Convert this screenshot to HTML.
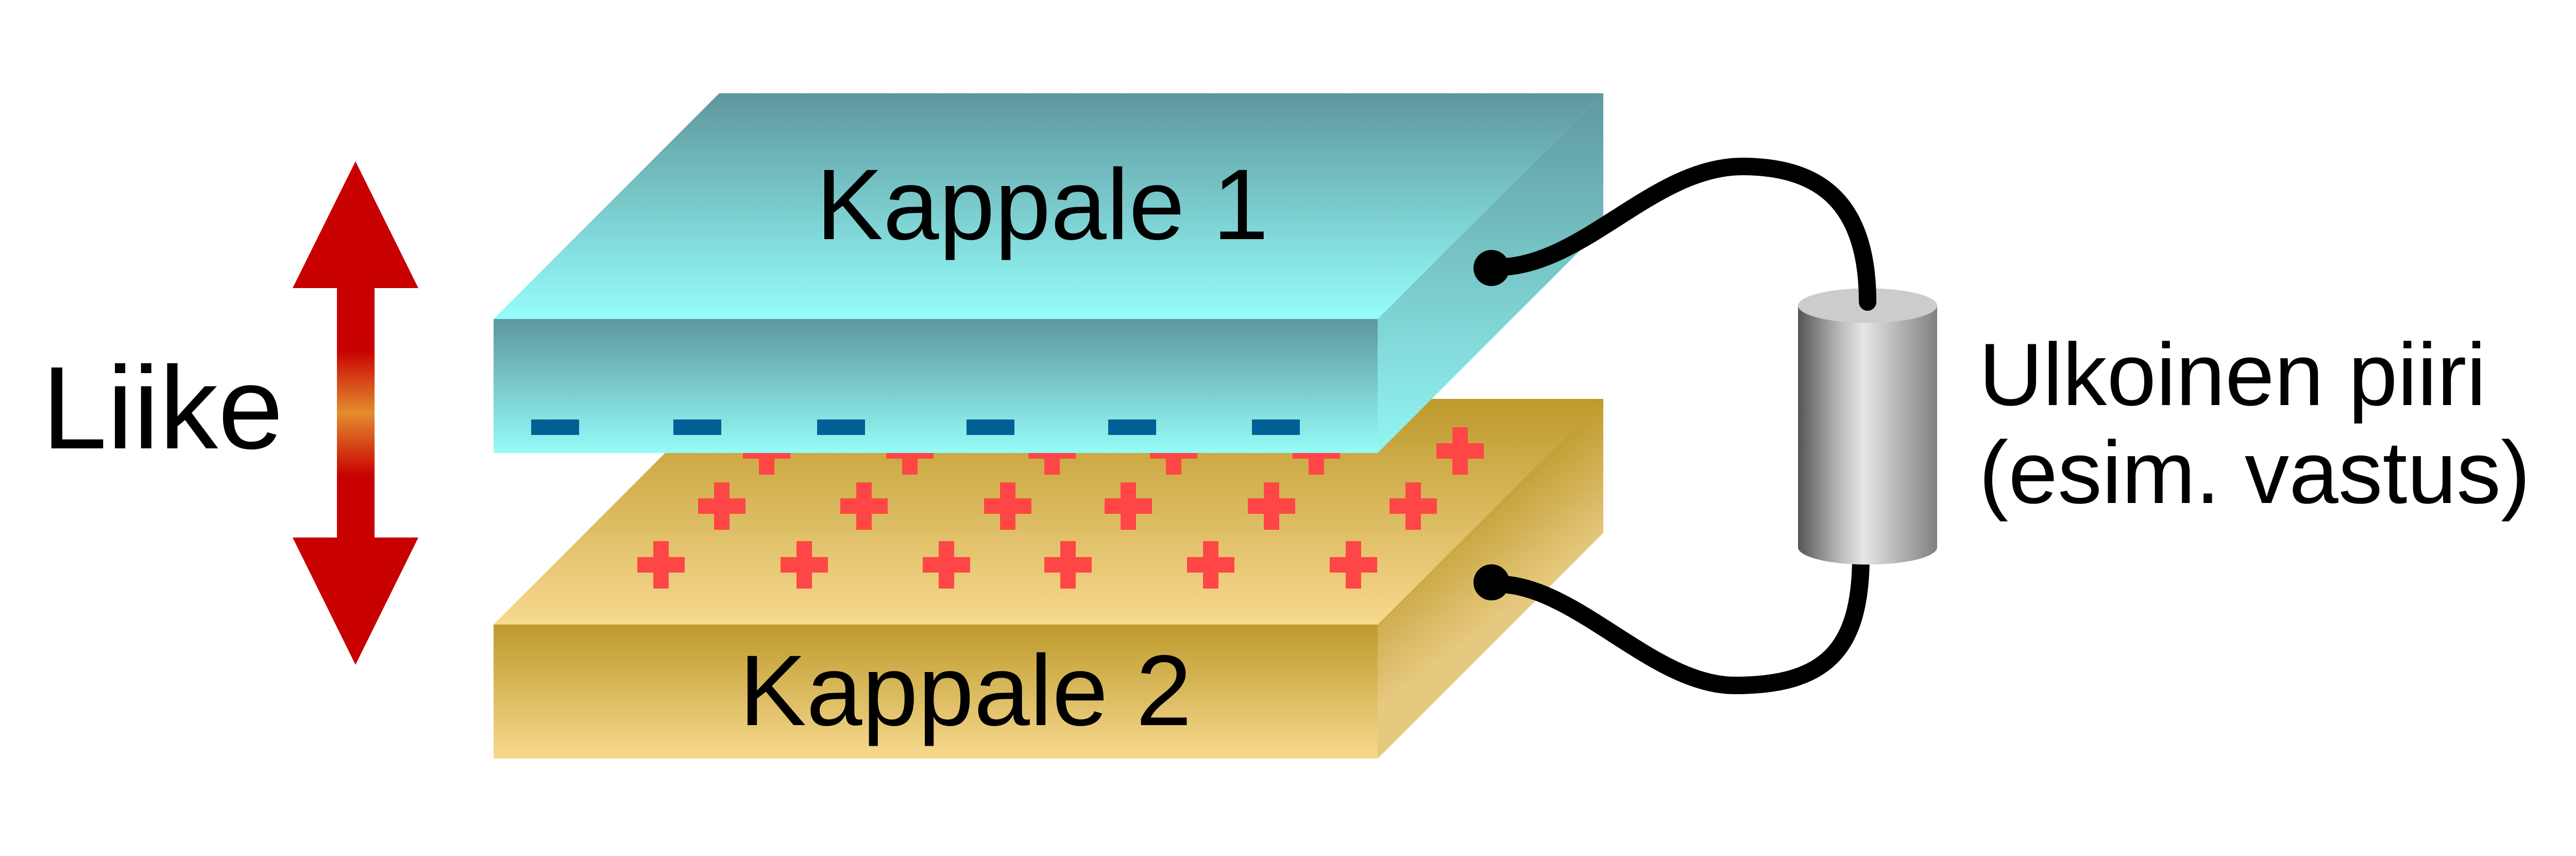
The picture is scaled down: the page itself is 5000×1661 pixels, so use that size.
<!DOCTYPE html>
<html>
<head>
<meta charset="utf-8">
<style>
html,body{margin:0;padding:0;background:#fff;}
svg{display:block;}
text{font-family:"Liberation Sans",Arial,sans-serif;fill:#000;}
</style>
</head>
<body>
<svg width="5000" height="1661" viewBox="0 0 5000 1661" xmlns="http://www.w3.org/2000/svg">
<defs>
  <linearGradient id="t1top" gradientUnits="userSpaceOnUse" x1="0" y1="181" x2="0" y2="619">
    <stop offset="0" stop-color="#5e979e"/>
    <stop offset="1" stop-color="#96fefa"/>
  </linearGradient>
  <linearGradient id="t1front" gradientUnits="userSpaceOnUse" x1="0" y1="619" x2="0" y2="879">
    <stop offset="0" stop-color="#5e979e"/>
    <stop offset="1" stop-color="#95fcf8"/>
  </linearGradient>
  <linearGradient id="t1right" gradientUnits="userSpaceOnUse" x1="0" y1="181" x2="0" y2="879">
    <stop offset="0" stop-color="#5f999f"/>
    <stop offset="1" stop-color="#92f6f3"/>
  </linearGradient>
  <linearGradient id="g2top" gradientUnits="userSpaceOnUse" x1="0" y1="774" x2="0" y2="1212">
    <stop offset="0" stop-color="#bd9a2c"/>
    <stop offset="1" stop-color="#f7d98f"/>
  </linearGradient>
  <linearGradient id="g2front" gradientUnits="userSpaceOnUse" x1="0" y1="1212" x2="0" y2="1472">
    <stop offset="0" stop-color="#bd9a2c"/>
    <stop offset="1" stop-color="#f7d98f"/>
  </linearGradient>
  <linearGradient id="g2right" gradientUnits="userSpaceOnUse" x1="3100" y1="790" x2="3227" y2="962">
    <stop offset="0" stop-color="#c09d30"/>
    <stop offset="1" stop-color="#e6c87e"/>
  </linearGradient>
  <linearGradient id="arrowg" gradientUnits="userSpaceOnUse" x1="0" y1="313" x2="0" y2="1290">
    <stop offset="0" stop-color="#c80000"/>
    <stop offset="0.374" stop-color="#c80000"/>
    <stop offset="0.5" stop-color="#e48c2e"/>
    <stop offset="0.626" stop-color="#c80000"/>
    <stop offset="1" stop-color="#c80000"/>
  </linearGradient>
  <linearGradient id="cyl" gradientUnits="userSpaceOnUse" x1="3490" y1="0" x2="3760" y2="0">
    <stop offset="0" stop-color="#555555"/>
    <stop offset="0.28" stop-color="#b3b3b3"/>
    <stop offset="0.47" stop-color="#e6e6e6"/>
    <stop offset="0.75" stop-color="#b0b0b0"/>
    <stop offset="1" stop-color="#808080"/>
  </linearGradient>
</defs>

<rect x="0" y="0" width="5000" height="1661" fill="#ffffff"/>

<!-- Double arrow -->
<polygon points="690,313 812,559 727,559 727,1043 812,1043 690,1290 568,1043 654,1043 654,559 568,559" fill="url(#arrowg)"/>

<!-- Liike -->
<text x="81" y="870" font-size="228">Liike</text>

<!-- Slab 2 (bottom, gold) -->
<polygon points="958,1212 1396,774 3112,774 2674,1212" fill="url(#g2top)"/>
<polygon points="2674,1212 3112,774 3112,1034 2674,1472" fill="url(#g2right)"/>
<rect x="958" y="1212" width="1716" height="260" fill="url(#g2front)"/>

<!-- Plus signs -->
<g fill="#ff4646">
  <!-- row 1 -->
  <rect x="1473" y="829" width="30" height="92"/><rect x="1442" y="860" width="92" height="30"/>
  <rect x="1751" y="829" width="30" height="92"/><rect x="1720" y="860" width="92" height="30"/>
  <rect x="2027" y="829" width="30" height="92"/><rect x="1996" y="860" width="92" height="30"/>
  <rect x="2263" y="829" width="30" height="92"/><rect x="2232" y="860" width="92" height="30"/>
  <rect x="2540" y="829" width="30" height="92"/><rect x="2509" y="860" width="92" height="30"/>
  <rect x="2819" y="829" width="30" height="92"/><rect x="2788" y="860" width="92" height="30"/>
  <!-- row 2 -->
  <rect x="1386" y="936" width="30" height="92"/><rect x="1355" y="967" width="92" height="30"/>
  <rect x="1662" y="936" width="30" height="92"/><rect x="1631" y="967" width="92" height="30"/>
  <rect x="1941" y="936" width="30" height="92"/><rect x="1910" y="967" width="92" height="30"/>
  <rect x="2175" y="936" width="30" height="92"/><rect x="2144" y="967" width="92" height="30"/>
  <rect x="2453" y="936" width="30" height="92"/><rect x="2422" y="967" width="92" height="30"/>
  <rect x="2728" y="936" width="30" height="92"/><rect x="2697" y="967" width="92" height="30"/>
  <!-- row 3 -->
  <rect x="1268" y="1050" width="30" height="92"/><rect x="1237" y="1081" width="92" height="30"/>
  <rect x="1546" y="1050" width="30" height="92"/><rect x="1515" y="1081" width="92" height="30"/>
  <rect x="1822" y="1050" width="30" height="92"/><rect x="1791" y="1081" width="92" height="30"/>
  <rect x="2058" y="1050" width="30" height="92"/><rect x="2027" y="1081" width="92" height="30"/>
  <rect x="2335" y="1050" width="30" height="92"/><rect x="2304" y="1081" width="92" height="30"/>
  <rect x="2612" y="1050" width="30" height="92"/><rect x="2581" y="1081" width="92" height="30"/>
</g>

<!-- Slab 1 (top, teal) -->
<polygon points="958,619 1396,181 3112,181 2674,619" fill="url(#t1top)"/>
<polygon points="2674,619 3112,181 3112,441 2674,879" fill="url(#t1right)"/>
<rect x="958" y="619" width="1716" height="260" fill="url(#t1front)"/>

<!-- Minus signs -->
<g fill="#006095">
  <rect x="1031" y="814" width="93" height="30"/>
  <rect x="1307" y="814" width="93" height="30"/>
  <rect x="1586" y="814" width="93" height="30"/>
  <rect x="1876" y="814" width="93" height="30"/>
  <rect x="2151" y="814" width="93" height="30"/>
  <rect x="2430" y="814" width="93" height="30"/>
</g>

<!-- Slab labels -->
<text x="1584" y="464" font-size="195">Kappale 1</text>
<text x="1435" y="1407" font-size="195">Kappale 2</text>

<!-- Bottom wire (behind cylinder) -->
<path d="M2920,1134 C3067,1145 3213,1330 3367,1330 C3543,1330 3612,1262 3612,1079" fill="none" stroke="#000" stroke-width="34" stroke-linecap="round"/>

<!-- Cylinder (resistor) -->
<path d="M3490,593 L3490,1062 A135,33.5 0 0 0 3760,1062 L3760,593 Z" fill="url(#cyl)"/>
<ellipse cx="3625" cy="593" rx="135" ry="33.5" fill="#cccccc"/>

<!-- Top wire -->
<path d="M2920,518 C3081,507 3213,323 3382,323 C3521,323 3625,382 3625,586" fill="none" stroke="#000" stroke-width="34" stroke-linecap="round"/>

<!-- Terminal dots -->
<circle cx="2895" cy="520" r="35" fill="#000"/>
<circle cx="2895" cy="1130" r="35" fill="#000"/>

<!-- Right label -->
<text x="3841" y="786" font-size="172">Ulkoinen piiri</text>
<text x="3841" y="976" font-size="172">(esim. vastus)</text>
</svg>
</body>
</html>
